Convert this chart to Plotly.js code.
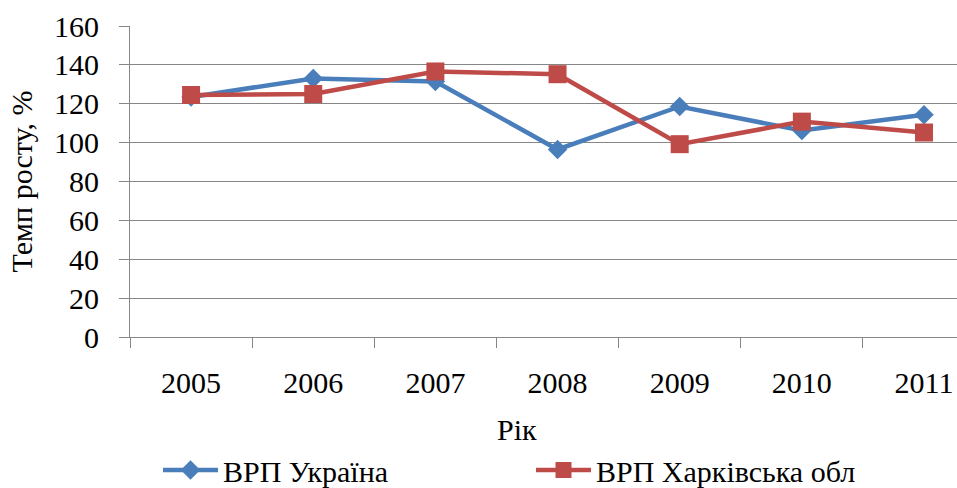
<!DOCTYPE html>
<html>
<head>
<meta charset="utf-8">
<script src="https://cdn.plot.ly/plotly-3.0.1.min.js"></script>
<style>html,body{margin:0;padding:0;background:#fff;}#chart{width:957px;height:488px;}</style>
</head>
<body>
<div id="chart"></div>
<script>
var years = ['2005','2006','2007','2008','2009','2010','2011'];
var ukraine = [123.5, 133, 131.4, 96.5, 118.6, 106.2, 114.3];
var kharkiv = [124.5, 125, 136.6, 135.2, 99.2, 110.8, 105.2];
var seriesNames = ['ВРП Україна', 'ВРП Харківська обл'];
var yTicks = [0, 20, 40, 60, 80, 100, 120, 140, 160];

var font = 'Liberation Serif';
var traces = [
  {x: years, y: ukraine, name: seriesNames[0], type: 'scatter', mode: 'lines+markers',
   line: {color: '#4A7EBB', width: 4.5}, marker: {symbol: 'diamond', size: 15, color: '#4A7EBB'}},
  {x: years, y: kharkiv, name: seriesNames[1], type: 'scatter', mode: 'lines+markers',
   line: {color: '#BE4B48', width: 4.5}, marker: {symbol: 'square', size: 18, color: '#BE4B48'}}
];
var layout = {
  width: 957, height: 488,
  margin: {l: 130, r: 0, t: 26, b: 150.5},
  paper_bgcolor: '#fff', plot_bgcolor: '#fff',
  font: {family: font, size: 30, color: '#000'},
  showlegend: true,
  legend: {orientation: 'h', x: 158 / 957, xref: 'container', y: 18 / 488, yref: 'container', yanchor: 'middle', xanchor: 'left',
           entrywidth: 303, entrywidthmode: 'pixels', itemwidth: 55, font: {family: font, size: 30, color: '#000'},
           bgcolor: 'rgba(0,0,0,0)'},
  xaxis: {type: 'category', range: [-0.5, 6.27], tickson: 'boundaries', ticks: 'outside', ticklen: 10,
          tickcolor: '#868686', showline: true, linecolor: '#868686', linewidth: 1, showgrid: false,
          ticklabelstandoff: 19, tickfont: {family: font, size: 30, color: '#000'}, fixedrange: true},
  yaxis: {range: [0, 160], tickvals: yTicks, ticks: 'outside', ticklen: 10, tickcolor: '#868686',
          showline: true, linecolor: '#868686', linewidth: 1, gridcolor: '#868686', gridwidth: 1,
          zeroline: false, ticklabelstandoff: 14, tickfont: {family: font, size: 30, color: '#000'},
          title: {text: 'Темп росту, %', font: {family: font, size: 30, color: '#000'}, standoff: 12}},
  annotations: [
    {text: 'Рік', xref: 'paper', yref: 'paper', x: (517 - 130) / 827, y: -0.297, xanchor: 'center', yanchor: 'middle',
     showarrow: false, font: {family: font, size: 30, color: '#000'}}
  ]
};
Plotly.newPlot('chart', traces, layout, {displayModeBar: false, staticPlot: true});
</script>
</body>
</html>
